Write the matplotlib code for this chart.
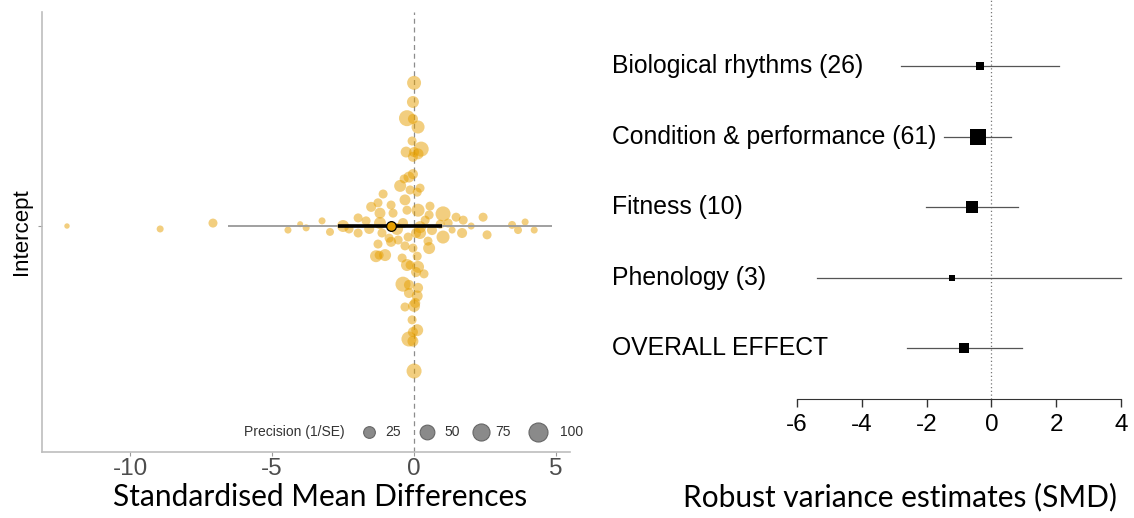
import matplotlib
matplotlib.use("Agg")
import matplotlib.pyplot as plt
import matplotlib.transforms as mtransforms
import numpy as np

plt.rcParams['font.family'] = ['Liberation Sans', 'DejaVu Sans']
plt.rcParams['axes.unicode_minus'] = False

# ---- left panel: orchard plot data (effect sizes, vertical jitter, precision)
smd = [0.00, -0.04, -0.25, -0.04, 0.14, -0.07, 0.25, -0.28, 0.00, 0.14,
       -0.04, -0.18, -0.04, -0.35, -0.49, 0.21, 0.11, -0.32, -0.25, 0.14,
       0.56, 0.53, 1.02, 1.48, 1.73, 1.20, 2.01, 2.43, 2.57, 3.45,
       3.66, 3.91, 4.23, 1.34, 0.63, 1.69, 1.02, 0.21, -0.39, -0.60,
       -0.21, 0.07, 0.21, 0.49, 0.53, -0.32, -0.04, 0.11, -0.42, -0.25,
       0.14, 0.35, 0.07, -0.39, -0.18, 0.14, -0.18, 0.11, 0.04, -0.32,
       0.00, -0.07, 0.11, -0.04, -0.18, -0.04, 0.00, -0.74, -0.81, -1.20,
       -1.09, -1.27, -1.51, -1.69, -1.58, -1.97, -1.97, -2.29, -2.50, -2.96,
       -3.24, -3.80, -4.01, -4.44, -7.08, -8.94, -12.22, -1.20, -1.13, -0.88,
       -1.27, -0.81, -1.34, -1.02, -1.23, -0.14, 0.92, -0.56, 0.39, -0.14]
jitter = [0.389, 0.337, 0.293, 0.291, 0.269, 0.231, 0.209, 0.201, 0.201, 0.196,
          0.188, 0.133, 0.141, 0.128, 0.109, 0.103, 0.092, 0.071, 0.043, 0.043,
          0.054, 0.030, 0.033, 0.024, 0.016, 0.008, 0.000, 0.024, -0.024, 0.003,
          -0.011, 0.011, -0.011, -0.011, -0.011, -0.019, -0.030, -0.003, 0.008, -0.008,
          -0.030, -0.019, -0.019, -0.041, -0.060, -0.054, -0.060, -0.082, -0.087, -0.106,
          -0.111, -0.130, -0.125, -0.158, -0.160, -0.168, -0.182, -0.190, -0.209, -0.220,
          -0.217, -0.255, -0.283, -0.288, -0.307, -0.313, -0.394, 0.035, 0.057, 0.035,
          0.087, 0.063, 0.052, 0.014, -0.008, 0.022, -0.019, -0.008, 0.000, -0.016,
          0.014, -0.005, 0.005, -0.011, 0.008, -0.008, 0.000, 0.008, -0.019, -0.033,
          -0.049, -0.043, -0.082, -0.079, -0.079, -0.106, 0.005, -0.038, 0.016, 0.098]
precision = [43, 27, 63, 15, 35, 10, 53, 20, 15, 20,
             15, 20, 15, 10, 27, 10, 10, 20, 10, 35,
             10, 10, 53, 10, 10, 10, 3.2, 10, 10, 6,
             6, 3.2, 3.2, 3.2, 15, 15, 35, 27, 15, 27,
             10, 15, 27, 10, 27, 10, 10, 10, 10, 27,
             27, 10, 15, 53, 15, 15, 15, 20, 15, 10,
             27, 10, 27, 15, 53, 20, 53, 10, 10, 20,
             10, 10, 15, 10, 15, 10, 10, 10, 27, 6,
             3.2, 3.2, 1.2, 3.2, 10, 3.2, 0.5, 27, 10, 10,
             10, 15, 27, 27, 10, 10, 10, 10, 10, 10]
overall_est = -0.81
overall_ci = [-2.68, 0.99]
overall_pi = [-6.55, 4.86]
legend_levels = [25, 50, 75, 100]

# ---- right panel: robust variance estimates
groups = ['Biological rhythms (26)', 'Condition & performance (61)',
          'Fitness (10)', 'Phenology (3)', 'OVERALL EFFECT']
est = [-0.35, -0.42, -0.60, -1.22, -0.84]
ci_lo = [-2.78, -1.46, -2.02, -5.39, -2.60]
ci_hi = [2.08, 0.62, 0.83, 4.00, 0.94]
weights = [0.28, 1.00, 0.66, 0.10, 0.47]

W, H = 1134, 518
fig = plt.figure(figsize=(W / 100, H / 100), dpi=100)


def box(l, t, r, b):
    return [l / W, 1 - b / H, (r - l) / W, (b - t) / H]


def size_pts(p):
    # diameter in px grows with sqrt(precision); convert to points^2
    d = 4.4 + 1.46 * np.sqrt(np.asarray(p, dtype=float))
    return (d * 0.72) ** 2


orange = '#E69F00'

# ================= left panel =================
axL = fig.add_axes(box(42, 12, 570, 452))
axL.set_xlim(-13.1, 5.49)
axL.set_ylim(0.386, 1.5815)
axL.axvline(0, color='#8c8c8c', ls=(0, (4, 3)), lw=0.9, zorder=1)
axL.scatter(smd, 1 + np.array(jitter), s=size_pts(precision), color=orange,
            alpha=0.5, linewidths=0, zorder=2)
axL.plot(overall_pi, [1, 1], color='#999999', lw=1.3, zorder=3, solid_capstyle='butt')
axL.plot(overall_ci, [1, 1], color='black', lw=2.6, zorder=4, solid_capstyle='butt')
axL.plot([overall_est], [1], 'o', ms=7, mfc=orange, mec='black', mew=0.9, zorder=5)

axL.set_yticks([1])
axL.set_yticklabels([''])
axL.set_ylabel('Intercept', fontsize=16, labelpad=1)
axL.set_xticks([-10, -5, 0, 5])
axL.tick_params(axis='x', labelsize=17.5, colors='#9a9a9a', labelcolor='#4d4d4d',
                length=3, pad=1.5)
axL.tick_params(axis='y', colors='#9a9a9a', length=3)
for side in ['top', 'right']:
    axL.spines[side].set_visible(False)
for side in ['left', 'bottom']:
    axL.spines[side].set_color('#bdbdbd')
    axL.spines[side].set_linewidth(1.2)

# size legend inside the panel
def frac(px, py):
    return ((px - 42) / 528, (452 - py) / 440)

leg_y = 432
axL.text(*frac(345, leg_y), 'Precision (1/SE)', transform=axL.transAxes,
         ha='right', va='center', fontsize=10, color='#333333')
circ_x = [369, 427, 481, 538]
lab_x = [393, 452, 503, 572]
for lev, cx, lx in zip(legend_levels, circ_x, lab_x):
    axL.scatter(*frac(cx, leg_y), s=size_pts(lev), transform=axL.transAxes,
                facecolor='#8a8a8a', edgecolor='#666666', linewidths=0.8,
                clip_on=False, zorder=6)
    axL.text(*frac(lx, leg_y), str(lev), transform=axL.transAxes, ha='center',
             va='center', fontsize=10, color='#333333', clip_on=False)

# ================= right panel =================
axR = fig.add_axes(box(797, 0, 1121, 399))
axR.set_xlim(-6, 4)
axR.set_ylim(0.277, 5.936)
axR.axvline(0, color='#777777', ls=(0, (1, 2)), lw=0.9, zorder=1)
trans = mtransforms.blended_transform_factory(axR.transAxes, axR.transData)
for i, g in enumerate(groups):
    y = len(groups) - i
    axR.plot([ci_lo[i], ci_hi[i]], [y, y], color='#555555', lw=0.9,
             clip_on=False, zorder=2)
    side = 16 * np.sqrt(weights[i])
    axR.plot([est[i]], [y], 's', ms=side * 0.72, color='black', mew=0,
             clip_on=False, zorder=3)
    axR.text(-0.571, y, g, transform=trans, ha='left', va='center', fontsize=17.8)

axR.set_yticks([])
axR.set_xticks([-6, -4, -2, 0, 2, 4])
axR.tick_params(axis='x', labelsize=17.5, length=6, width=1, colors='#333333',
                labelcolor='black', pad=4.5)
for side in ['top', 'right', 'left']:
    axR.spines[side].set_visible(False)
axR.spines['bottom'].set_bounds(-6, 4)
axR.spines['bottom'].set_color('#333333')

fig.text(320 / W, 1 - 497 / H, 'Standardised Mean Differences', ha='center',
         va='center', fontsize=21.5, family='Lato')
fig.text(900 / W, 1 - 497 / H, 'Robust variance estimates (SMD)', ha='center',
         va='center', fontsize=21.5, family='Lato')

fig.savefig('out.png', dpi=100)
